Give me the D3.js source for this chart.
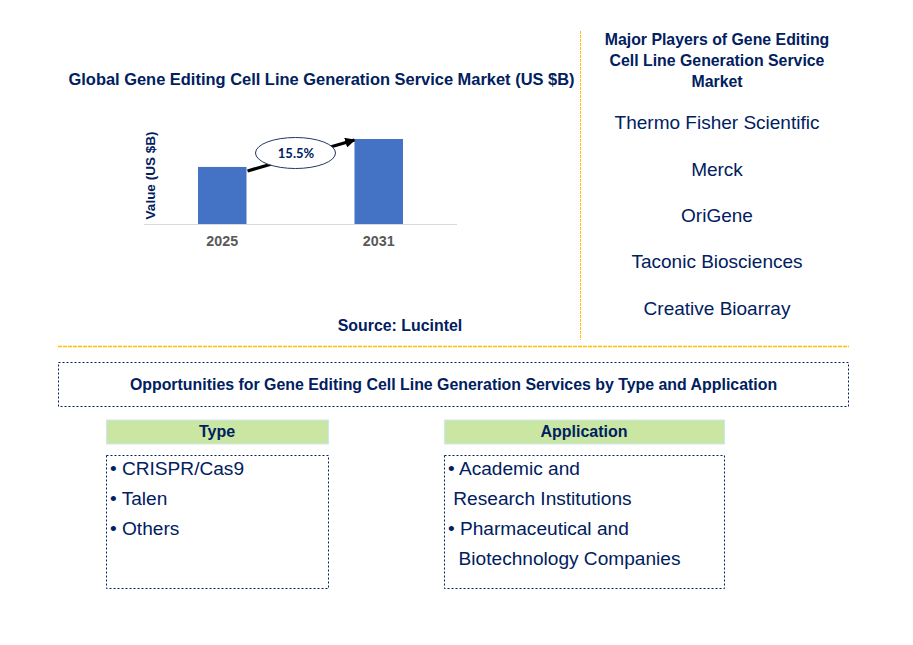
<!DOCTYPE html>
<html>
<head>
<meta charset="utf-8">
<script src="https://cdn.jsdelivr.net/npm/d3@7"></script>
<style>
  html, body { margin: 0; padding: 0; background: #fff; }
  svg { display: block; }
  text { font-family: "Liberation Sans", Arial, sans-serif; fill: #002060; }
  .bold { font-weight: bold; }
  .axis-x path, .axis-x line { display: none; }
  .axis-x text { font-size: 14.3px; font-weight: bold; fill: #595959; }
</style>
</head>
<body>
<svg id="chart" width="913" height="645"></svg>
<script>
const years = ['2025', '2031'];
const values = [1.0, 1.49];
const cagrLabel = '15.5%';
const chartTitle = 'Global Gene Editing Cell Line Generation Service Market (US $B)';
const yLabel = 'Value (US $B)';
const source = 'Source: Lucintel';
const playersTitle = ['Major Players of Gene Editing', 'Cell Line Generation Service', 'Market'];
const players = ['Thermo Fisher Scientific', 'Merck', 'OriGene', 'Taconic Biosciences', 'Creative Bioarray'];
const oppTitle = 'Opportunities for Gene Editing Cell Line Generation Services by Type and Application';
const typeItems = ['\u2022 CRISPR/Cas9', '\u2022 Talen', '\u2022 Others'];
const appItems = ['\u2022 Academic and', ' Research Institutions', '\u2022 Pharmaceutical and', '  Biotechnology Companies'];

const svg = d3.select('#chart');

// chart part
const x = d3.scaleBand().domain(years).range([144, 457]).paddingInner(0.69).paddingOuter(0.345);
const y = d3.scaleLinear().domain([0, d3.max(values)]).range([224, 139]);

svg.append('text').attr('class', 'bold').attr('x', 321.5).attr('y', 85)
  .attr('text-anchor', 'middle').style('font-size', '16.45px').text(chartTitle);

svg.selectAll('rect.bar').data(values).join('rect')
  .attr('class', 'bar')
  .attr('x', (d, i) => x(years[i]))
  .attr('y', d => y(d))
  .attr('width', x.bandwidth())
  .attr('height', d => y(0) - y(d))
  .attr('fill', '#4472c4');

const axis = svg.append('g').attr('class', 'axis-x')
  .attr('transform', 'translate(0,224)')
  .call(d3.axisBottom(x).tickSize(0).tickPadding(12));
axis.selectAll('text').attr('dy', '0.71em');

svg.append('line').attr('x1', 144).attr('x2', 457).attr('y1', 224.5).attr('y2', 224.5)
  .attr('stroke', '#d9d9d9').attr('stroke-width', 1);

svg.append('text').attr('class', 'bold')
  .attr('transform', 'translate(155,175.5) rotate(-90)')
  .attr('text-anchor', 'middle').style('font-size', '13.5px').text(yLabel);

// growth arrow, from top of the first bar to top of the second
svg.append('defs').append('marker')
  .attr('id', 'head').attr('viewBox', '0 0 10 10').attr('refX', 9).attr('refY', 5)
  .attr('markerWidth', 3.2).attr('markerHeight', 3.2).attr('orient', 'auto')
  .append('path').attr('d', 'M0,0L10,5L0,10Z').attr('fill', '#000');

const x0 = x(years[0]) + x.bandwidth();
const x1 = x(years[1]);
svg.append('line')
  .attr('x1', x0 + 1).attr('y1', y(values[0]) + 4)
  .attr('x2', x1).attr('y2', y(values[1]) + 1)
  .attr('stroke', '#000').attr('stroke-width', 3.2)
  .attr('marker-end', 'url(#head)');

svg.append('ellipse').attr('cx', 295.5).attr('cy', 153).attr('rx', 40).attr('ry', 15.5)
  .attr('fill', '#fff').attr('stroke', '#1f3864').attr('stroke-width', 1);
svg.append('text').attr('class', 'bold').attr('x', 296).attr('y', 158)
  .attr('text-anchor', 'middle')
  .style('font-family', 'Lato, sans-serif').style('font-size', '13px').text(cagrLabel);

svg.append('text').attr('class', 'bold').attr('x', 400).attr('y', 331)
  .attr('text-anchor', 'middle').style('font-size', '15.9px').text(source);

// dividers
svg.append('line').attr('x1', 580.5).attr('x2', 580.5).attr('y1', 31).attr('y2', 340)
  .attr('stroke', '#ffc000').attr('stroke-width', 1).attr('stroke-dasharray', '3,1');
svg.append('line').attr('x1', 58).attr('x2', 849).attr('y1', 346.5).attr('y2', 346.5)
  .attr('stroke', '#ffc000').attr('stroke-width', 1.5).attr('stroke-dasharray', '4,1');

// major players
svg.selectAll('text.pt').data(playersTitle).join('text')
  .attr('class', 'pt bold').attr('x', 717).attr('y', (d, i) => 45 + i * 21)
  .attr('text-anchor', 'middle').style('font-size', '15.85px').text(d => d);

const playerY = [129, 176, 222, 268, 315];
svg.selectAll('text.player').data(players).join('text')
  .attr('class', 'player').attr('x', 717).attr('y', (d, i) => playerY[i])
  .attr('text-anchor', 'middle').style('font-size', '19px').text(d => d);

// opportunities box
function dotted(xp, yp, w, h) {
  svg.append('rect').attr('x', xp).attr('y', yp).attr('width', w).attr('height', h)
    .attr('fill', 'none').attr('stroke', '#002060').attr('stroke-width', 1)
    .attr('stroke-dasharray', '2,2');
}
dotted(58.5, 362.5, 790, 44);
svg.append('text').attr('class', 'bold').attr('x', 453.5).attr('y', 390)
  .attr('text-anchor', 'middle').style('font-size', '15.9px').text(oppTitle);

function panel(title, items, xp, w, textX) {
  svg.append('rect').attr('x', xp).attr('y', 420).attr('width', w).attr('height', 24)
    .attr('fill', '#c9e7a3').attr('stroke', '#cfe5f3').attr('stroke-width', 1);
  svg.append('text').attr('class', 'bold').attr('x', xp + w / 2 - 0.5).attr('y', 437)
    .attr('text-anchor', 'middle').style('font-size', '16px').text(title);
  dotted(xp, 455.5, w, 133);
  svg.selectAll(null).data(items).join('text')
    .attr('x', textX).attr('y', (d, i) => 475 + i * 30)
    .attr('xml:space', 'preserve').style('white-space', 'pre')
    .style('font-size', '19.1px').text(d => d);
}
panel('Type', typeItems, 106.5, 222, 110);
panel('Application', appItems, 444.5, 280, 448);
</script>
</body>
</html>
